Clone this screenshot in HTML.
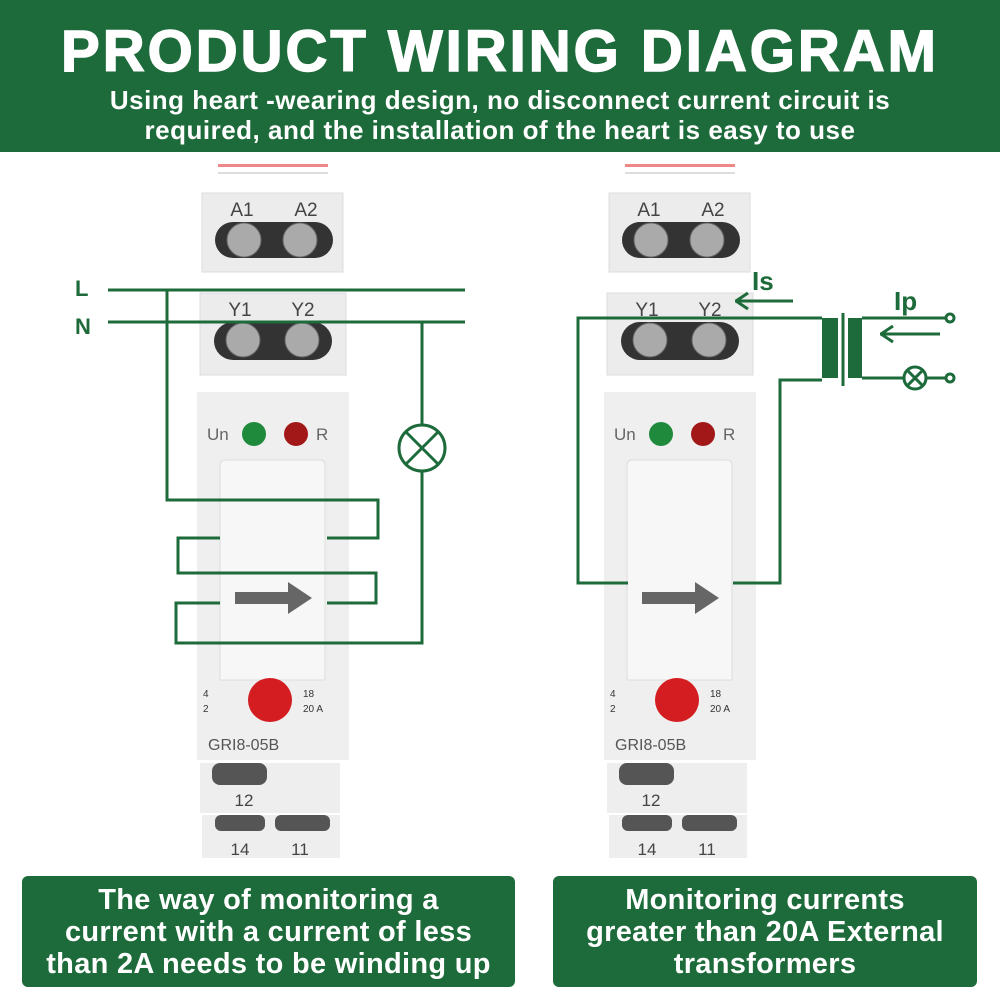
<!DOCTYPE html>
<html><head><meta charset="utf-8"><style>
body{margin:0;width:1000px;height:1000px;background:#fff;position:relative;overflow:hidden;font-family:"Liberation Sans",Arial,sans-serif}
.hdr{position:absolute;left:0;top:0;width:1000px;height:152px;background:#1d6b3a;color:#fff;text-align:center}
.t1{position:absolute;top:18px;left:0;width:1000px;font-size:58px;font-weight:bold;letter-spacing:3px;-webkit-text-stroke:1.5px #fff}
.t2{position:absolute;top:85px;left:0;width:1000px;font-size:26px;font-weight:bold;line-height:30px;letter-spacing:0.5px}
.box{position:absolute;top:876px;height:111px;background:#1d6b3a;border-radius:6px;color:#fff;font-weight:bold;font-size:29px;line-height:32px;text-align:center;display:flex;align-items:center;justify-content:center;letter-spacing:0.3px}
</style></head><body>
<div class="hdr"><div class="t1">PRODUCT WIRING DIAGRAM</div>
<div class="t2">Using heart -wearing design, no disconnect current circuit is<br>required, and the installation of the heart is easy to use</div></div>
<svg width="1000" height="1000" style="position:absolute;left:0;top:0" font-family="Liberation Sans,Arial,sans-serif">
<defs>
<g id="dev">
<rect x="218" y="164" width="110" height="3" fill="#e88" />
<rect x="218" y="172" width="110" height="2" fill="#ddd"/>
<rect x="202" y="193" width="141" height="79" fill="#ececec" stroke="#ddd"/>
<text x="242" y="216" font-size="19" fill="#444" text-anchor="middle">A1</text>
<text x="306" y="216" font-size="19" fill="#444" text-anchor="middle">A2</text>
<rect x="215" y="222" width="118" height="36" rx="18" fill="#333"/>
<circle cx="244" cy="240" r="17" fill="#aaa" stroke="#666"/><circle cx="300" cy="240" r="17" fill="#aaa" stroke="#666"/>
<rect x="200" y="293" width="146" height="82" fill="#ececec" stroke="#ddd"/>
<text x="240" y="316" font-size="19" fill="#444" text-anchor="middle">Y1</text>
<text x="303" y="316" font-size="19" fill="#444" text-anchor="middle">Y2</text>
<rect x="214" y="322" width="118" height="38" rx="19" fill="#333"/>
<circle cx="243" cy="340" r="17" fill="#aaa" stroke="#666"/><circle cx="302" cy="340" r="17" fill="#aaa" stroke="#666"/>
<rect x="197" y="392" width="152" height="368" fill="#efefef"/>
<text x="207" y="440" font-size="17" fill="#666">Un</text>
<circle cx="254" cy="434" r="12" fill="#1f8a3c"/>
<circle cx="296" cy="434" r="12" fill="#a21818"/>
<text x="316" y="440" font-size="17" fill="#666">R</text>
<path d="M220 680 V465 Q220 460 226 460 H320 Q325 460 325 465 V680 Z" fill="#f7f7f7" stroke="#ddd"/>
<polygon points="235,592 288,592 288,582 312,598 288,614 288,604 235,604" fill="#666"/>
<circle cx="270" cy="700" r="22" fill="#d41d20"/>
<text x="203" y="697" font-size="10" fill="#333">4</text><text x="203" y="712" font-size="10" fill="#333">2</text>
<text x="303" y="697" font-size="10" fill="#333">18</text><text x="303" y="712" font-size="10" fill="#333">20 A</text>
<text x="208" y="750" font-size="16" fill="#555">GRI8-05B</text>
<rect x="200" y="763" width="140" height="50" fill="#eee"/>
<rect x="212" y="763" width="55" height="22" rx="8" fill="#555"/>
<text x="244" y="806" font-size="17" fill="#444" text-anchor="middle">12</text>
<rect x="202" y="815" width="138" height="43" fill="#eee"/>
<rect x="215" y="815" width="50" height="16" rx="6" fill="#555"/><rect x="275" y="815" width="55" height="16" rx="6" fill="#555"/>
<text x="240" y="855" font-size="17" fill="#444" text-anchor="middle">14</text>
<text x="300" y="855" font-size="17" fill="#444" text-anchor="middle">11</text>
</g></defs>
<use href="#dev"/>
<use href="#dev" x="407"/>
<g stroke="#1d6b3a" stroke-width="3" fill="none">
<path d="M108 290 H465 M108 322 H465"/>
<path d="M167 290 V500 H378 V538 H327"/>
<path d="M220 538 H178 V573 H376 V603 H327"/>
<path d="M220 603 H176 V643 H422 V471 M422 425 V322"/>
<circle cx="422" cy="448" r="23"/>
<path d="M406 432 L438 464 M438 432 L406 464"/>
<path d="M822 318 H578 V583 H628 M733 583 H780 V380 H822"/>
<path d="M843 313 V386"/>
<path d="M862 318 H946 M862 378 H904 M926 378 H946"/>
<circle cx="950" cy="318" r="4"/><circle cx="950" cy="378" r="4"/>
<circle cx="915" cy="378" r="11"/>
<path d="M907 370 L923 386 M923 370 L907 386"/>
<path d="M793 301 H735 M940 334 H880"/>
</g>
<path d="M736 301 L748 293 M736 301 L748 309 M881 334 L893 326 M881 334 L893 342" stroke="#1d6b3a" stroke-width="3"/>
<rect x="822" y="318" width="16" height="60" fill="#1d6b3a"/>
<rect x="848" y="318" width="14" height="60" fill="#1d6b3a"/>
<text x="75" y="296" font-size="22" font-weight="bold" fill="#1d6b3a">L</text>
<text x="75" y="334" font-size="22" font-weight="bold" fill="#1d6b3a">N</text>
<text x="752" y="290" font-size="26" font-weight="bold" fill="#1d6b3a">Is</text>
<text x="894" y="310" font-size="26" font-weight="bold" fill="#1d6b3a">Ip</text>
</svg>
<div class="box" style="left:22px;width:493px">The way of monitoring a<br>current with a current of less<br>than 2A needs to be winding up</div>
<div class="box" style="left:553px;width:424px">Monitoring currents<br>greater than 20A External<br>transformers</div>
</body></html>
